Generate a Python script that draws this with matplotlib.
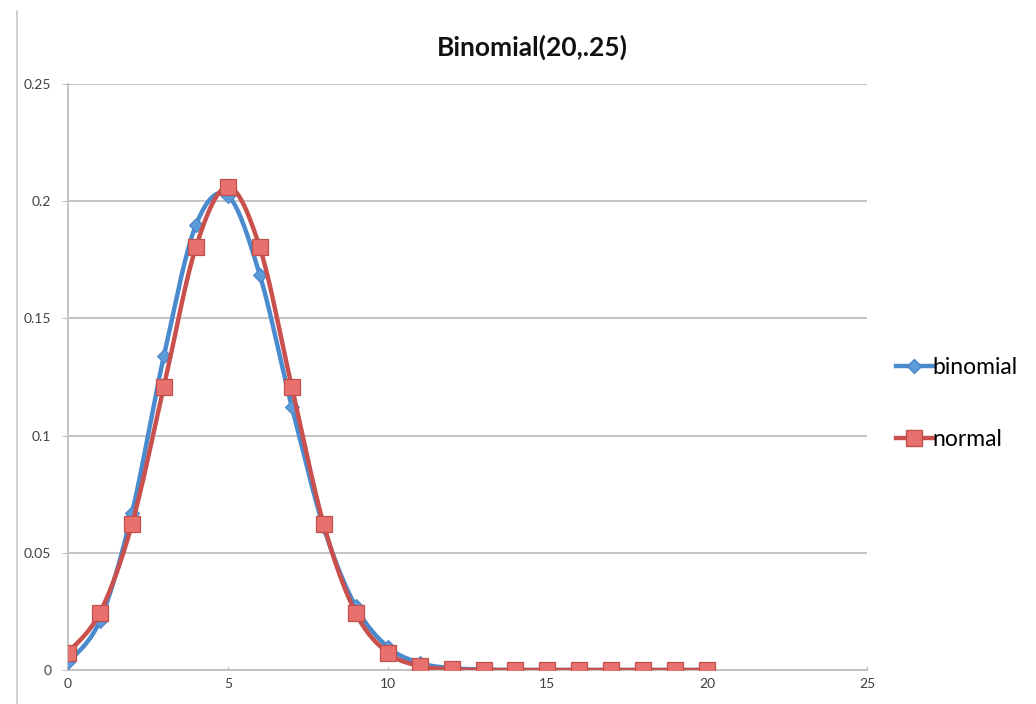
import numpy as np
import matplotlib
matplotlib.use("Agg")
import matplotlib.pyplot as plt
from matplotlib.lines import Line2D

# ─── Data ──────────────────────────────────────────────────────────
k = list(range(21))
binomial = [0.0032, 0.0211, 0.0669, 0.1339, 0.1897, 0.2023, 0.1686, 0.1124,
            0.0609, 0.0271, 0.0099, 0.0030, 0.0008, 0.0002, 0.0, 0.0,
            0.0, 0.0, 0.0, 0.0, 0.0]
normal = [0.0074, 0.0244, 0.0621, 0.1209, 0.1803, 0.2060, 0.1803, 0.1209,
          0.0621, 0.0244, 0.0074, 0.0017, 0.0003, 0.0, 0.0, 0.0,
          0.0, 0.0, 0.0, 0.0, 0.0]

BLUE_LINE = "#4A8BCF"
BLUE_MARK = "#5B9BD9"
RED_LINE = "#C9504C"
RED_MARK = "#E8716D"
GRID = "#BFBFBF"


def smooth(xs, ys, n=20):
    # Catmull-Rom style smoothing, as spreadsheet "smoothed line"
    xs = np.asarray(xs, float)
    ys = np.asarray(ys, float)
    px = np.concatenate([[xs[0]], xs, [xs[-1]]])
    py = np.concatenate([[ys[0]], ys, [ys[-1]]])
    out_x, out_y = [], []
    t = np.linspace(0, 1, n, endpoint=False)
    for i in range(1, len(px) - 2):
        p0, p1, p2, p3 = px[i - 1], px[i], px[i + 1], px[i + 2]
        q0, q1, q2, q3 = py[i - 1], py[i], py[i + 1], py[i + 2]
        cx1, cy1 = p1 + (p2 - p0) / 6, q1 + (q2 - q0) / 6
        cx2, cy2 = p2 - (p3 - p1) / 6, q2 - (q3 - q1) / 6
        a, b, c, d = (1 - t) ** 3, 3 * (1 - t) ** 2 * t, 3 * (1 - t) * t ** 2, t ** 3
        out_x.extend(a * p1 + b * cx1 + c * cx2 + d * p2)
        out_y.extend(a * q1 + b * cy1 + c * cy2 + d * q2)
    out_x.append(xs[-1])
    out_y.append(ys[-1])
    return np.array(out_x), np.array(out_y)


plt.rcParams["font.family"] = ["Lato", "DejaVu Sans"]

fig = plt.figure(figsize=(10.36, 7.04), dpi=100)
ax = fig.add_axes([0.0656, 0.0483, 0.7714, 0.8324])

# light border line on the left of the image
fig.add_artist(Line2D([0.016, 0.016], [0.0, 0.985], transform=fig.transFigure,
                      color="#C8C8C8", linewidth=1.2))

bx, by = smooth(k, binomial)
nx, ny = smooth(k, normal)

ax.plot(bx, by, color=BLUE_LINE, linewidth=3.2, solid_capstyle="round", zorder=2)
ax.plot(k, binomial, linestyle="none", marker="D", markersize=7,
        markerfacecolor=BLUE_MARK, markeredgecolor="#4A84C4", markeredgewidth=0.8,
        zorder=3)
ax.plot(nx, ny, color=RED_LINE, linewidth=3.2, solid_capstyle="round", zorder=4)
ax.plot(k, normal, linestyle="none", marker="s", markersize=11,
        markerfacecolor=RED_MARK, markeredgecolor="#C0504D", markeredgewidth=0.9,
        zorder=5)

# legend (manual proxies to mimic spreadsheet style)
h_bin = Line2D([], [], color=BLUE_LINE, linewidth=3.2, marker="D", markersize=7,
               markerfacecolor=BLUE_MARK, markeredgecolor="#4A84C4")
h_nor = Line2D([], [], color=RED_LINE, linewidth=3.2, marker="s", markersize=11,
               markerfacecolor=RED_MARK, markeredgecolor="#C0504D")
fig.legend([h_bin, h_nor], ["binomial", "normal"], loc="center left",
           bbox_to_anchor=(0.845, 0.427), frameon=False, fontsize=16.5,
           handlelength=1.6, handletextpad=0.0, labelspacing=2.2)

ax.set_xlim(0, 25)
ax.set_ylim(0, 0.25)
ax.set_xticks([0, 5, 10, 15, 20, 25])
ax.set_yticks([0, 0.05, 0.1, 0.15, 0.2, 0.25])
ax.set_yticklabels(["0", "0.05", "0.1", "0.15", "0.2", "0.25"])
ax.tick_params(axis="both", labelsize=10, colors="#404040")
ax.tick_params(axis="x", direction="in", length=3, color=GRID, pad=6)
ax.tick_params(axis="y", direction="out", length=4, color=GRID, pad=8)

ax.grid(axis="y", color=GRID, linewidth=1.3)
ax.set_axisbelow(True)
for side in ["top", "right"]:
    ax.spines[side].set_visible(False)
for side in ["left", "bottom"]:
    ax.spines[side].set_color(GRID)
    ax.spines[side].set_linewidth(1.3)

fig.text(0.5135, 0.933, "Binomial(20,.25)", ha="center", va="center",
         fontsize=19, fontweight="bold", color="#111111")

fig.savefig("out.png", dpi=100)
